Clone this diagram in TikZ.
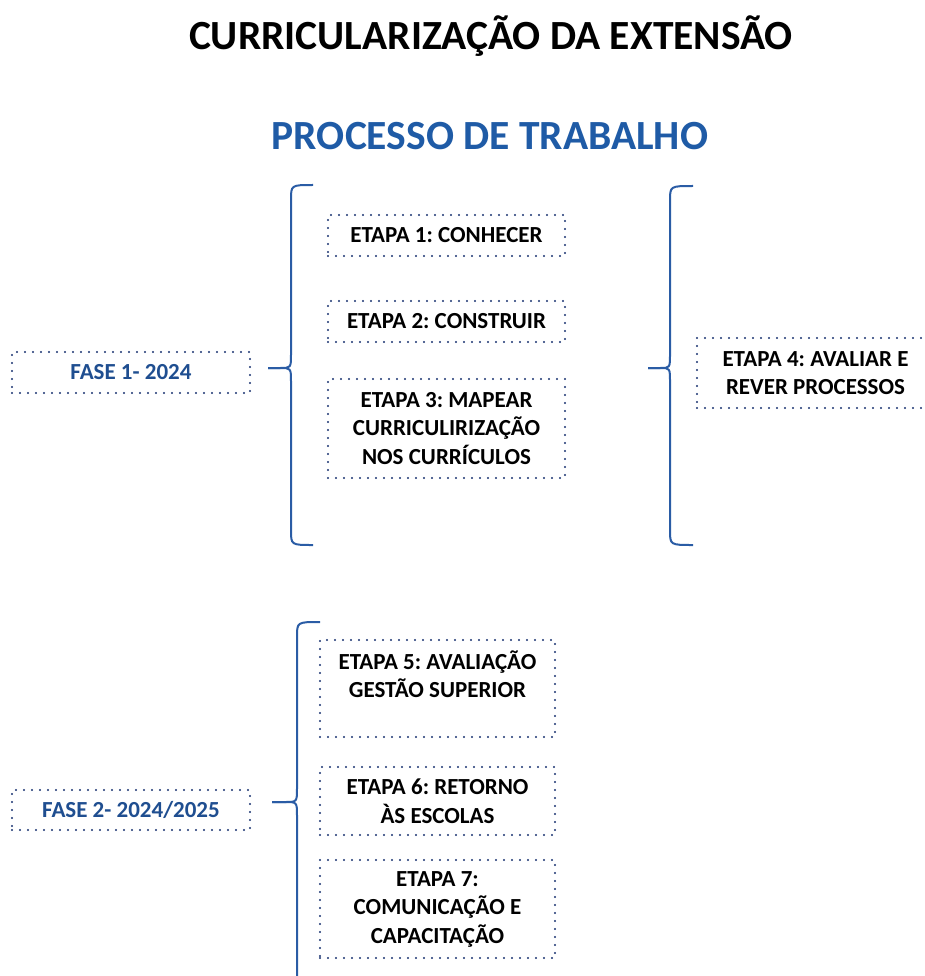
\documentclass[tikz,border=0pt]{standalone}
\usepackage{fontspec}
\setmainfont{Carlito}
\definecolor{azultit}{HTML}{1F5BA6}
\definecolor{azulfase}{HTML}{1F4E90}
\definecolor{azulchave}{HTML}{2A5CA5}
\definecolor{azulponto}{HTML}{1A3270}
\tikzset{
  caixa/.style={draw=azulponto, line width=2.4pt, line cap=round, dash pattern=on 0pt off 8pt,
    minimum width=237pt, inner sep=0pt, align=center,
    font=\fontsize{23}{28.5}\selectfont\bfseries\frenchspacing},
  fase/.style={caixa, text=azulfase, minimum width=238pt},
  chave/.style={draw=azulchave, line width=2pt}
}
\begin{document}
\begin{tikzpicture}[x=1pt, y=-1pt]
  \useasboundingbox (0,0) rectangle (925,976);
  \clip (0,0) rectangle (925,976);
  % Titulos
  \node[font=\fontsize{41.5}{50}\selectfont\bfseries] (titulo) at (491,36) {CURRICULARIZAÇÃO DA EXTENSÃO};
  \node[font=\fontsize{41.5}{50}\selectfont\bfseries, text=azultit] (subtitulo) at (490,136) {PROCESSO DE TRABALHO};
  % Fase 1
  \node[fase, minimum height=41pt] (fase1) at (131,372.5) {FASE 1- 2024};
  \node[caixa, minimum height=41pt] (etapa1) at (446.5,235.5) {ETAPA 1: CONHECER};
  \node[caixa, minimum height=41pt] (etapa2) at (446.5,321.5) {ETAPA 2: CONSTRUIR};
  \node[caixa, minimum height=99pt] (etapa3) at (446.5,428.5) {ETAPA 3: MAPEAR\\CURRICULIRIZAÇÃO\\NOS CURRÍCULOS};
  \node[caixa, minimum height=70pt] (etapa4) at (815.5,373) {ETAPA 4: AVALIAR E\\REVER PROCESSOS};
  % Chaves da fase 1
  \coordinate (ponta1) at (268,368);
  \coordinate (ponta2) at (648,368);
  \draw[chave] (313,185) .. controls (291,185) .. (291,200) -- (291,354)
    .. controls (291,368) .. (280,368) -- (ponta1);
  \draw[chave] (ponta1) -- (280,368) .. controls (291,368) .. (291,382)
    -- (291,530) .. controls (291,545) .. (313,545);
  \draw[chave] (693,186) .. controls (670,186) .. (670,201) -- (670,354)
    .. controls (670,368) .. (660,368) -- (ponta2);
  \draw[chave] (ponta2) -- (660,368) .. controls (670,368) .. (670,382)
    -- (670,530) .. controls (670,545) .. (693,545);
  % Fase 2
  \node[fase, minimum height=40pt] (fase2) at (131,810) {FASE 2- 2024/2025};
  \node[caixa, minimum width=235pt, minimum height=97pt] (etapa5) at (437.5,688.5) {ETAPA 5: AVALIAÇÃO\\GESTÃO SUPERIOR\\~};
  \node[caixa, minimum width=235pt, minimum height=68pt] (etapa6) at (437.5,801) {ETAPA 6: RETORNO\\ÀS ESCOLAS};
  \node[caixa, minimum width=235pt, minimum height=98pt] (etapa7) at (437.5,909) {ETAPA 7:\\COMUNICAÇÃO E\\CAPACITAÇÃO};
  % Chave da fase 2
  \coordinate (ponta3) at (272,802);
  \draw[chave] (320,622) .. controls (297,622) .. (297,637) -- (297,788)
    .. controls (297,802) .. (285,802) -- (ponta3);
  \draw[chave] (ponta3) -- (285,802) .. controls (297,802) .. (297,816) -- (297,990);
\end{tikzpicture}
\end{document}
